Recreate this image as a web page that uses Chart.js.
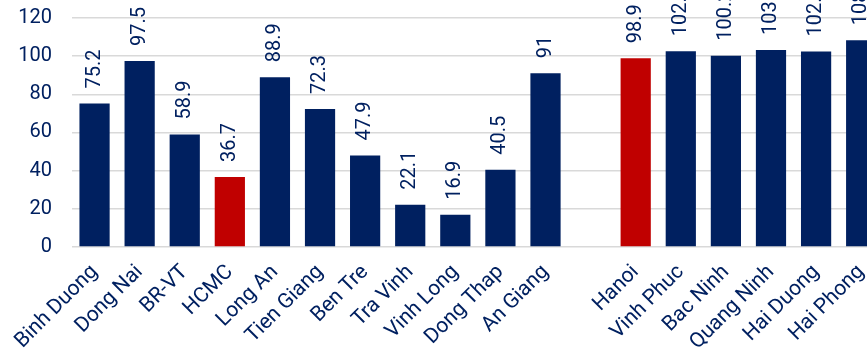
<!DOCTYPE html>
<html>
<head>
<meta charset="utf-8">
<script src="https://cdn.jsdelivr.net/npm/chart.js@4/dist/chart.umd.min.js"></script>
<style>
  html, body { margin: 0; padding: 0; background: #fff; overflow: hidden; }
  #wrap { width: 884px; height: 374px; margin-top: -14px; position: relative; }
</style>
</head>
<body>
<div id="wrap"><canvas id="barChart"></canvas></div>
<script>
// provinces, blank slot separates the south and north groups
const provinces = ['Binh Duong', 'Dong Nai', 'BR-VT', 'HCMC', 'Long An', 'Tien Giang', 'Ben Tre',
  'Tra Vinh', 'Vinh Long', 'Dong Thap', 'An Giang', '', 'Hanoi', 'Vinh Phuc', 'Bac Ninh',
  'Quang Ninh', 'Hai Duong', 'Hai Phong'];
const values = [75.2, 97.5, 58.9, 36.7, 88.9, 72.3, 47.9, 22.1, 16.9, 40.5, 91, null,
  98.9, 102.6, 100.2, 103.2, 102.5, 108.4];
const highlighted = ['HCMC', 'Hanoi'];
const yTicks = [0, 20, 40, 60, 80, 100, 120];

const navy = '#002060';
const red = '#C00000';

const barColors = provinces.map(p => highlighted.includes(p) ? red : navy);

// vertical value labels above each bar
const valueLabels = {
  id: 'valueLabels',
  afterDatasetsDraw(chart) {
    const ctx = chart.ctx;
    const meta = chart.getDatasetMeta(0);
    ctx.save();
    ctx.fillStyle = navy;
    ctx.font = '20px Roboto';
    ctx.textAlign = 'left';
    ctx.textBaseline = 'middle';
    meta.data.forEach((bar, i) => {
      const v = values[i];
      if (v === null) return;
      ctx.save();
      ctx.translate(bar.x, bar.y - 15);
      ctx.rotate(-Math.PI / 2);
      ctx.fillText(String(v), 0, 0);
      ctx.restore();
    });
    ctx.restore();
  }
};

const chart = new Chart(document.getElementById('barChart').getContext('2d'), {
  type: 'bar',
  data: {
    labels: provinces,
    datasets: [{
      data: values,
      backgroundColor: barColors,
      borderWidth: 0,
      categoryPercentage: 1,
      barPercentage: 0.67
    }]
  },
  options: {
    responsive: true,
    maintainAspectRatio: false,
    animation: false,
    layout: { padding: 0 },
    plugins: {
      legend: { display: false },
      tooltip: { enabled: false }
    },
    scales: {
      x: {
        grid: { display: false },
        border: { display: false },
        ticks: {
          color: navy,
          font: { family: 'Roboto', size: 21 },
          maxRotation: 45,
          minRotation: 45,
          autoSkip: false,
          padding: 5
        }
      },
      y: {
        min: 0,
        max: 120,
        afterFit(scale) { scale.width = 72; },
        afterBuildTicks(scale) { scale.ticks = yTicks.map(v => ({ value: v })); },
        grid: { color: '#D9D9D9', lineWidth: 1.5, drawTicks: false },
        border: { display: false },
        ticks: {
          color: navy,
          font: { family: 'Roboto', size: 20 },
          padding: 20
        }
      }
    }
  },
  plugins: [valueLabels]
});
</script>
</body>
</html>
